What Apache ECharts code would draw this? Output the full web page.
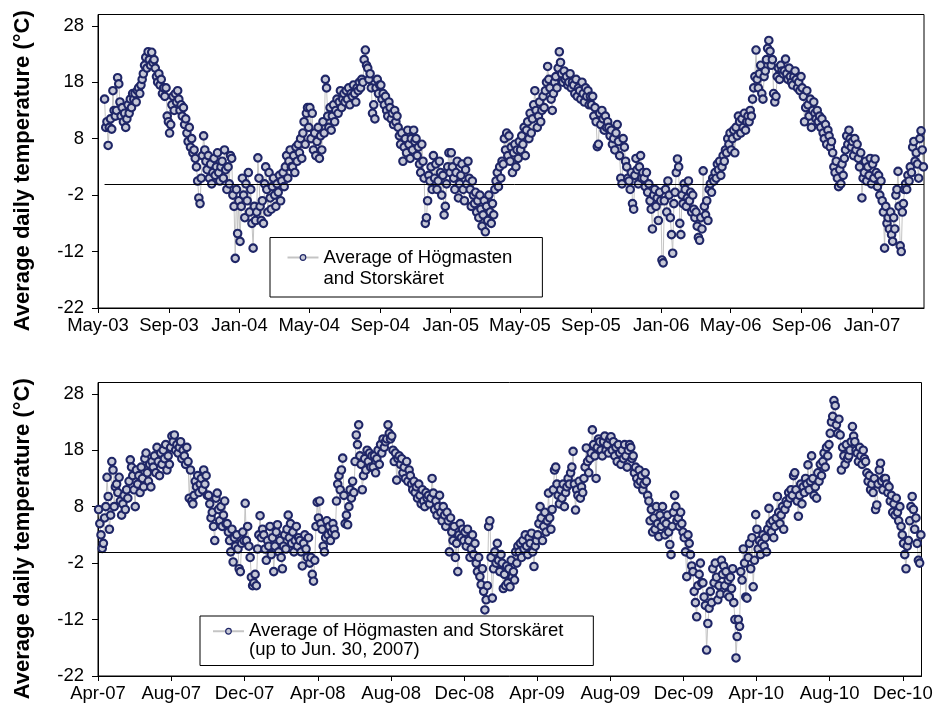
<!DOCTYPE html>
<html>
<head>
<meta charset="utf-8">
<script src="https://cdn.jsdelivr.net/npm/echarts@6/dist/echarts.min.js"></script>
<style>
html,body{margin:0;padding:0;background:#fff;}
#chart{width:938px;height:706px;}
</style>
</head>
<body>
<div id="chart"></div>
<script>
// ---------- DATA (daily-temperature readings, ~every 2 days, one inner array per month) ----------
const MONTHS = ['Jan','Feb','Mar','Apr','May','Jun','Jul','Aug','Sep','Oct','Nov','Dec'];

const yTitle = 'Average daily temperature (°C)';
const topSeriesName = 'Average of Högmasten and Storskäret';
const topLegendText = 'Average of Högmasten\nand Storskäret';
const bottomSeriesName = 'Average of Högmasten and Storskäret (up to Jun. 30, 2007)';
const bottomLegendText = 'Average of Högmasten and Storskäret\n(up to Jun. 30, 2007)';

const yTickValues = [-22, -12, -2, 8, 18, 28];
const topTickLabels = ['May-03','Sep-03','Jan-04','May-04','Sep-04','Jan-05','May-05','Sep-05','Jan-06','May-06','Sep-06','Jan-07'];
const bottomTickLabels = ['Apr-07','Aug-07','Dec-07','Apr-08','Aug-08','Dec-08','Apr-09','Aug-09','Dec-09','Apr-10','Aug-10','Dec-10'];
const topRange = ['May-03', 'Apr-07'];
const bottomRange = ['Apr-07', 'Jan-11'];

// Top panel: May 2003 - Mar 2007
const top2003 = [
  [null,null,null,null,null,15,10,11,6.8,10,11.5,9.7,16.5,13,12],
  [13,18.8,17.7,14.5,12,13.5,11,12.5,10,11.5,14,12.5,15,13.5,16],
  [15,16,14.5,16.5,17,16,17.5,18.5,19.5,21,22.4,20.5,23.4,22,21],
  [23.3,21.5,22,20.5,19,18,19.5,17.5,18.5,16,17,15.5,17,12,11],
  [9,10.5,14,15.5,13,16,14.5,16.5,15,13,14,12,13.5,10.5,11.5],
  [9,7.5,10,6.5,8,5.5,6,4.5,3,0.5,-2.5,-3.5,1,5,8.5],
  [6,4,2.5,5,1,3.5,0,2,4.5,1.5,3,5.5,2,0.5,3],
  [4,1,6,2.5,-1,3,0,5,4.5,-2,-4,-13.2,-1,-8.8,-3]
];
const top2004 = [
  [-10.2,-4,1,-2,-6,0,-3,2,-5,-1,-7,-11.4,-4,-6.5,-5],
  [4.6,1,-4,-6.5,-3,-7,0,3,-1,-5,2,-2.5,-4.5,-0.5,1],
  [-2,-4,0,-1.5,1.5,-3,0.5,2,-0.5,3,5,1,4,6,3],
  [3,5,2,6.5,4,7,5.5,8,4.5,9,11,7,12.5,13.5,10],
  [13.5,8,12.5,6,9,5,7.5,10,4.5,8.5,6,11,9,18.5,17],
  [12,10,13.5,9.5,12,14,11,13,15,12.5,14.5,16.5,13.5,15,16],
  [14.5,16.5,15,17,14,16,15.5,17.5,16,14.5,17,16.5,18,17,18.5],
  [18,22,23.7,21,20.5,18.5,19.5,17,12.5,14,11.5,17,18.5,16,17.5],
  [17.5,15,16,14,15.5,13,12,14.5,13.5,11.5,12.5,10.5,13,11,12],
  [10,8.5,7,9,4,6.5,8,5.5,9.5,7,4.5,8,6,9.5,7.5],
  [8,5,6.5,3.5,2,7,4,1,-7,-6,-3,1.5,0.5,3,-1],
  [5,1,3.5,-1,0.5,4,2,-2,1.5,-5.5,-4,0,3,5.5,2]
];
const top2005 = [
  [5.5,3,1,-1,2,4,-2.5,0,1.5,3.5,-1,-3,2.5,0,4],
  [1,-1,-4,0.5,-2,-3.5,-1.5,-5,-3,-6,-2,-4.5,-7.5,-5.5,-3],
  [-8.5,-4,-6.5,-2,-5,-7,-3.5,-5.5,-1,0.5,2,-0.5,3,1,4],
  [3.5,8,6,9,5,8.5,4,6.5,2,5.5,7,3,6,4.5,7.5],
  [6,8.5,7,10,5,9.5,11,8,12.5,9,11.5,14,16.5,13,10],
  [12,14.5,11,13,15.5,13.5,16.5,18,20.8,18.5,17,15,13,16,18],
  [19,17,20.5,23.4,21.5,19.5,18,20,18.5,19,17.5,18,19.5,17,18],
  [17.5,16,18.5,15.5,17,16.5,15,18,16,14.5,17,15.5,16.5,14,15.5],
  [14,15.5,12,13.5,11,6.6,7,12.5,10.5,13,11.5,9.5,12,10,11],
  [10,8.5,9.5,7,8,6,9,10.5,7.5,5,1,0,8,6.5,4],
  [3,1,0.5,-1,2,-3.5,-4.5,1.5,4.5,2.5,0,3,5,1,2],
  [1,-0.5,2,-1.5,0,-3,-4.5,-8,-2,-1,-4,-2.5,-6.5,-1.5,-3]
];
const top2006 = [
  [-13.5,-14,-3,-1,-5,0.5,-2,-6,-9,-12.3,-3.5,-1.5,2,4.4,3],
  [-7,-9,-2,-3.5,0,-1,-4,-2.5,0.5,-3,-1.5,-5,-2,-4.5,-6],
  [-5,-7.5,-9.5,-10,-6,-8,2.3,-4,-5.5,-3,-6.5,-1,0,-1.5,1],
  [0.5,2,1,3.5,2.5,4,1.5,3,5,4,6,5.5,8,7,9],
  [6,8,9.5,5.5,10,8.5,12,11,9,11.5,10,12.5,9.5,11,12],
  [11,13,12,15,17,19,23.7,18.5,17,19.5,21,16,15,19,20],
  [22,24,25.4,23.5,21,22,16,14.5,15.5,19,20.5,18.5,21,20,19.5],
  [20,22.1,19.5,18.5,20.5,19,18,17.5,19,20,18.5,17,18,16.5,19],
  [17,15.5,11,13.5,16.5,14,12,15,10,13,14.5,12.5,11.5,13,11],
  [12,10,11.5,9,8,10.5,7,9.5,8.5,6.5,7.5,5.5,3,2,4],
  [1,-0.5,2.5,0,3.5,1.5,4.5,6,8.5,7,9.5,8,6.5,7.5,5],
  [8,6,7,4.5,3,5.5,-2.5,1,2,4,0.5,3,1.5,4.5,0]
];
const top2007 = [
  [3.5,1,4.4,2,-0.5,1.5,-2,0.5,-3,-5,-11.4,-4,-7,-6,-8],
  [-5,-9,-10.2,-6,-8,-2,-1,2.2,-4,-11,-12,-5,-3.5,-1,0],
  [-1,1.5,0.5,3,2,6.5,7.5,4,5.5,3.5,1,8,9.4,6,3]
];

// Bottom panel: Apr 2007 - Dec 2010
const bottom2007 = [
  [7.5,5,3,0.6,1.5,6,8,13.2,9.8,4,6.5,16,14.5,8,11.5],
  [12,10.5,13.2,9,6.5,8.5,10,7.5,11,9.5,12.5,16.3,15,13.5,11],
  [8,14.5,12,13.5,10.5,15,13,11.5,16.5,17.5,14,12.5,15.5,11.5,16],
  [15,17,14,18.5,16,13.5,17.5,15.5,18,16.5,19,14.5,17,15.5,18.5],
  [20.5,19.5,20.7,18,19,17.5,18.5,19.5,16.5,18,17,15.5,18.5,16,9.5],
  [14.5,9,8.5,10,12.5,11.5,13.5,10.5,12,13,11,14.5,12,13.5,10],
  [10,8.5,6,7,4.5,2,9.5,10.4,7.5,5.5,8,4.5,6.5,9,5],
  [5,3.5,2,0,4,-1.8,2.5,1,3,0.5,-3,-3.5,1.5,3.5,2],
  [8.6,2,4.5,1,-1,-4.5,-6,-5.5,-4,-6,0.5,3,6.4,2.5,4]
];
const bottom2008 = [
  [3,0.5,-1.5,2,1,4.5,-0.5,2.5,-3.5,1,3.5,4.8,0,2,-1],
  [-3,1,3,0.5,4,6.5,2.5,5,1.5,3.5,0,2,4.5,1,2.5],
  [2,0,-2.5,1.5,3,0.5,-1,2.5,-2,-1,-4,-5.2,-1.5,4.5,8.8],
  [6,9,5,4,1,0,2.5,5.5,3,4.5,2,3.5,5,4,3],
  [9,12,13.5,11,14.5,16.6,10,5,6.5,4.8,8,11,9.5,12.5,10.5],
  [16,20.7,19,22.5,17,15.5,11,13.5,16.5,14.5,18,16,17.5,15,17],
  [15,17,14,16.5,18,15.5,19,17.5,20,18.5,19.5,20,22.5,21,20],
  [20.5,18,16,17.5,12.7,16.5,17,15.5,16.5,14,15,13,16,12.5,14.5],
  [13.5,12,11,12.5,10.5,11.5,9.5,12,10,8.5,11,9,8,10.5,9.5],
  [10,8.5,9.5,13,10.4,7.5,9,6.5,8,10,7,5.5,8,6.5,4.5],
  [7,5.5,0,6,3.5,2,4.5,-1,1.5,-3.5,3,5,2.5,4,2],
  [3.5,1,4,2,-1,0.5,3,-0.5,1.5,-2,-3.5,-1,-4.4,-5.8,-3]
];
const bottom2009 = [
  [-7,-10.3,-8.5,-6,4.5,5.5,-1,-8.2,-3,0,-2,1.5,-1.5,-3.5,-0.5],
  [-2,-6.5,-4,-6,-2.5,-5.5,-3,-6.2,-1.5,-4.5,-3.5,-5,0,-2,1],
  [0,1.5,-1,2,0.5,3,1,-0.5,2.5,1.5,3.3,0,-2.6,1,2],
  [3,5,8,6,2,4.5,7,3.5,5.5,10.4,6,4,7.5,11,14.5],
  [15,12,10,8.5,11,9.5,12,8,10.5,11.5,13,12,14,15,17.8],
  [12,7.4,11,10,12.5,9.5,11.5,10.5,13,15,18.4,16,14,16.5,17.5],
  [21.6,19,17,13,18.5,20,19.5,18,17,19.5,20.5,18,19,17.5,20],
  [20.4,18,19.5,17,18.5,16,19,17.5,15.5,18,16.5,19,17,15,18],
  [19,18.5,16.5,17,14,15,13,12,14.5,12.5,13.5,11,12,14,12.5],
  [10,9,5.5,7.5,3.5,6,4,8,5,2.7,6.5,4.5,8,5.5,3],
  [5,6.5,3.5,1.3,-0.5,4.5,7,10,8,5.5,6,4.5,7,5,3.5],
  [2.5,0,-4.4,3,1.5,-0.5,-2.5,-3.5,-7,-9,-11.5,-6,-4,-2,-5.5]
];
const bottom2010 = [
  [-5.5,-8,-9.5,-17.4,-12.7,-10,-7,-9,-3,-5.5,-2,-4.5,-8.5,-6,-7.5],
  [-1.5,-4,-2.5,-6,-3.5,-7.5,-5,-8,-4.5,-6.5,-3,-9,-12,-18.8,-15],
  [-12,-13.2,-3.5,-5,0.5,-2,-8,-8.2,-1,1.5,-3,2.5,-6.2,-1.5,6.6],
  [4,0.5,2,-0.5,1.5,3,1,2.5,0,4,7.7,5,3.5,5.5,2.5],
  [4.5,6,9.8,7,5,6.5,8,4,7.5,9,8.5,10.5,9.5,11,10],
  [13.5,14,11,9,6.3,10,12,8.5,11.5,10.5,13,12,15.4,11,12.5],
  [17,13,10,11.5,9.5,14,12.5,15.5,13.5,16,17.5,15,18.5,17,19],
  [21,23,24,26.8,25.9,22.5,21,23.5,20.7,14.5,18.5,17,15.5,19,16.5],
  [17,18,19.5,22.2,20.5,19.5,18,17.5,16,18.5,17,15.5,18,16.5,16],
  [14,12.5,13.5,11,12,10.5,13,7.5,8.3,12,14.5,15.7,12.5,11,13],
  [13,12,10.5,11.5,9,10,7,8.5,6.5,9.5,7,5.5,8,4.5,3],
  [1.5,-0.5,-3,1,2,5.5,8,9.8,7.5,4,6,1.5,-1.5,-2,3]
];

const topYears = [[2003, 5, top2003], [2004, 1, top2004], [2005, 1, top2005], [2006, 1, top2006], [2007, 1, top2007]];
const bottomYears = [[2007, 4, bottom2007], [2008, 1, bottom2008], [2009, 1, bottom2009], [2010, 1, bottom2010]];

// ---------- helpers ----------
function labelToTime(l) {
  const parts = l.split('-');
  return Date.UTC(2000 + Number(parts[1]), MONTHS.indexOf(parts[0]), 1);
}
function timeToLabel(t) {
  const d = new Date(t);
  return MONTHS[d.getUTCMonth()] + '-' + String(d.getUTCFullYear() % 100).padStart(2, '0');
}
function toPoints(yearBlocks) {
  const pts = [];
  yearBlocks.forEach(function (yb) {
    const year = yb[0], firstMonth = yb[1], months = yb[2];
    months.forEach(function (vals, k) {
      const m = firstMonth - 1 + k;
      const s = Date.UTC(year, m, 1), e = Date.UTC(year, m + 1, 1);
      vals.forEach(function (v, j) {
        if (v !== null) pts.push([s + (j + 0.5) * (e - s) / vals.length, v]);
      });
    });
  });
  return pts;
}

const topPts = toPoints(topYears);
const bottomPts = toPoints(bottomYears);
const topTicks = topTickLabels.map(labelToTime);
const bottomTicks = bottomTickLabels.map(labelToTime);

const FONT = '"Liberation Sans", Arial, sans-serif';
const NAVY = '#1f2667';
const FILL = '#c6c8d6';

function xAxisCfg(idx, range, ticks) {
  return {
    type: 'value', gridIndex: idx,
    min: labelToTime(range[0]), max: labelToTime(range[1]),
    axisLine: { show: true, onZero: false, lineStyle: { color: '#000', width: 1 } },
    axisTick: { show: true, inside: false, length: 5, customValues: ticks, lineStyle: { color: '#000' } },
    axisLabel: { customValues: ticks, formatter: timeToLabel, fontSize: 18.5, color: '#000', fontFamily: FONT, margin: 8 },
    splitLine: { show: false }
  };
}
function yAxisCfg(idx) {
  return {
    type: 'value', gridIndex: idx, min: -22, max: 30, interval: 10,
    name: yTitle, nameLocation: 'middle', nameRotate: 90, nameGap: 64,
    nameTextStyle: { fontSize: 22, fontWeight: 'bold', color: '#000', fontFamily: FONT, padding: [0, 19, 0, 0] },
    axisLine: { show: true, onZero: false, lineStyle: { color: '#000', width: 1 } },
    axisTick: { show: true, inside: false, length: 6, customValues: yTickValues, lineStyle: { color: '#000' } },
    axisLabel: { customValues: yTickValues, fontSize: 18.5, color: '#000', fontFamily: FONT, margin: 14 },
    splitLine: { show: false }
  };
}
function seriesCfg(idx, name, pts, endTime) {
  return {
    type: 'line', name: name, xAxisIndex: idx, yAxisIndex: idx, data: pts,
    symbol: 'circle', symbolSize: 7.5, showSymbol: true, showAllSymbol: true,
    itemStyle: { color: FILL, borderColor: NAVY, borderWidth: 2.1 },
    lineStyle: { color: '#c4c4c4', width: 1 },
    emphasis: { disabled: true }, animation: false, silent: true,
    markLine: {
      silent: true, symbol: ['none', 'none'], label: { show: false }, animation: false,
      lineStyle: { color: '#000', width: 1, type: 'solid' },
      data: [[{ coord: [pts[0][0], 0] }, { coord: [endTime, 0] }]]
    }
  };
}
// A leading blank line centres the first text line on the legend icon.
function legendCfg(seriesName, text, left, top, lineH, padding) {
  return {
    data: [seriesName], left: left, top: top, orient: 'vertical',
    selectedMode: false, itemWidth: 31, itemHeight: 7,
    formatter: function () { return ' \n' + text; },
    backgroundColor: '#fff', borderColor: '#000', borderWidth: 1, borderRadius: 0,
    padding: padding,
    itemStyle: { borderWidth: 1.2 },
    textStyle: { fontSize: 18.5, color: '#000', fontFamily: FONT, lineHeight: lineH }
  };
}

const chart = echarts.init(document.getElementById('chart'), null, { renderer: 'canvas' });
chart.setOption({
  animation: false,
  backgroundColor: '#fff',
  textStyle: { fontFamily: FONT },
  grid: [
    { left: 98, right: 14, top: 14.5, bottom: 398, show: true, borderColor: '#000', borderWidth: 1, outerBoundsMode: 'none', containLabel: false },
    { left: 98, right: 16.5, top: 382.5, bottom: 30, show: true, borderColor: '#000', borderWidth: 1, outerBoundsMode: 'none', containLabel: false }
  ],
  xAxis: [xAxisCfg(0, topRange, topTicks), xAxisCfg(1, bottomRange, bottomTicks)],
  yAxis: [yAxisCfg(0), yAxisCfg(1)],
  legend: [
    legendCfg(topSeriesName, topLegendText, 270, 237.5, 21, [-11.5, 30, 8, 16.5]),
    legendCfg(bottomSeriesName, bottomLegendText, 200, 616, 18.5, [-12.75, 30, 6.25, 12])
  ],
  series: [
    seriesCfg(0, topSeriesName, topPts, labelToTime(topRange[1])),
    seriesCfg(1, bottomSeriesName, bottomPts, labelToTime(bottomRange[1]))
  ]
});
</script>
</body>
</html>
